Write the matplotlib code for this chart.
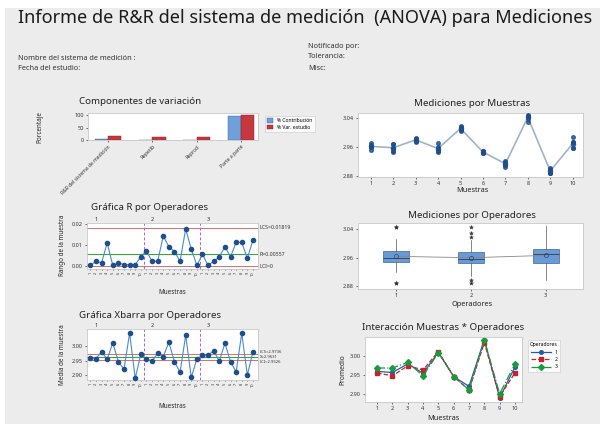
import matplotlib
matplotlib.use("Agg")
import matplotlib.pyplot as plt
import numpy as np
from matplotlib.patches import Rectangle

plt.rcParams['font.family'] = ['Noto Sans', 'DejaVu Sans']

# ---------------- data ----------------
parts = [1, 2, 3, 4, 5, 6, 7, 8, 9, 10]
operators = [1, 2, 3]

op1_t1 = [2.96015, 2.95815, 2.9808, 2.9605, 3.01115, 2.94675, 2.92035, 3.04535, 2.88935, 2.9742]
op1_t2 = [2.95985, 2.95585, 2.9792, 2.9495, 3.01085, 2.94525, 2.91965, 3.04465, 2.88865, 2.9698]
op2_t1 = [2.9596, 2.94915, 2.97615, 2.9711, 3.01765, 2.94945, 2.91115, 3.04585, 2.8960, 2.95615]
op2_t2 = [2.9524, 2.94685, 2.97385, 2.9569, 3.00835, 2.94255, 2.90885, 3.02815, 2.8880, 2.95585]
op3_t1 = [2.9718, 2.96915, 2.98515, 2.9502, 3.0146, 2.9482, 2.91665, 3.04965, 2.9018, 2.98625]
op3_t2 = [2.9662, 2.96885, 2.98285, 2.9458, 3.0054, 2.9438, 2.90535, 3.03835, 2.8982, 2.97375]

comp_labels = ["R&R del sistema de medición", "Repetib", "Reprod", "Parte a parte"]
pct_contrib = [3.0, 1.6, 1.4, 97.0]
pct_studyvar = [17.3, 12.6, 11.8, 98.5]

R_ucl, R_bar, R_lcl = 0.01819, 0.00557, 0.0
X_ucl, X_bar, X_lcl = 2.9736, 2.9631, 2.9526

# ---------------- derived stats ----------------
t1 = [np.array(op1_t1), np.array(op2_t1), np.array(op3_t1)]
t2 = [np.array(op1_t2), np.array(op2_t2), np.array(op3_t2)]
xbar = [(a + b) / 2 for a, b in zip(t1, t2)]
rng = [np.abs(a - b) for a, b in zip(t1, t2)]

W, H = 600, 424
fig = plt.figure(figsize=(6, 4.24), dpi=100, facecolor='white')
fig.patches.append(Rectangle((5 / W, 0), 1, 1 - 8 / H, transform=fig.transFigure,
                             facecolor='#ececec', edgecolor='none', zorder=-10))


def axpx(x0, y0, x1, y1):
    ax = fig.add_axes([x0 / W, 1 - y1 / H, (x1 - x0) / W, (y1 - y0) / H])
    ax.set_facecolor('white')
    for s in ax.spines.values():
        s.set_color('#c8c8c8')
        s.set_linewidth(0.6)
    ax.tick_params(labelsize=4, length=1.5, width=0.5, pad=1.5, colors='#333333')
    return ax


def ftext(x, y, s, **kw):
    kw.setdefault('color', '#222222')
    fig.text(x / W, 1 - y / H, s, **kw)


# ---------------- header ----------------
ftext(18, 18, "Informe de R&R del sistema de medición  (ANOVA) para Mediciones",
      fontsize=13.0, va='center', ha='left', color='#1a1a1a')
ftext(18, 58, "Nombre del sistema de medición :", fontsize=5.3, va='center', color='#333333')
ftext(18, 69, "Fecha del estudio:", fontsize=5.3, va='center', color='#333333')
ftext(308, 46, "Notificado por:", fontsize=5.3, va='center', color='#333333')
ftext(308, 57, "Tolerancia:", fontsize=5.3, va='center', color='#333333')
ftext(308, 68, "Misc:", fontsize=5.3, va='center', color='#333333')

blue_bar = '#6fa0dc'
red_bar = '#c8373e'

# ---------------- Componentes de variación ----------------
ax = axpx(88, 113, 258, 140)
xpos = np.arange(len(comp_labels))
bw = 0.3
ax.bar(xpos - bw / 2, pct_contrib, bw, color=blue_bar, edgecolor='#3d5f8a', linewidth=0.3, label='% Contribución')
ax.bar(xpos + bw / 2, pct_studyvar, bw, color=red_bar, edgecolor='#7a1f24', linewidth=0.3, label='% Var. estudio')
ax.set_xlim(-0.45, 3.38)
ax.set_ylim(0, 108)
ax.set_yticks([0, 50, 100])
ax.set_xticks(xpos)
ax.set_xticklabels(comp_labels, rotation=45, ha='right', rotation_mode='anchor', fontsize=3.6)
ftext(140, 102, "Componentes de variación", fontsize=7, ha='center', va='center')
ftext(40, 127, "Porcentaje", fontsize=4.5, rotation=90, ha='center', va='center')
leg = ax.legend(loc='upper left', bbox_to_anchor=(262 / W, 1 - 113 / H), bbox_transform=fig.transFigure,
                fontsize=3.6, frameon=True, handlelength=1.2, handleheight=1.0, borderpad=0.5,
                labelspacing=0.3, fancybox=False, edgecolor='#c8c8c8')
leg.get_frame().set_linewidth(0.5)

# ---------------- control chart helper ----------------
line_blue = '#4a8ad4'
pt_blue = '#1f4e8c'
xs = np.arange(1, 31)
tick_lbls = [str(p) for p in parts] * 3


def control_chart(ax, vals, ucl, cl, lcl):
    ax.plot(xs, vals, color=line_blue, lw=0.8, marker='o', ms=3,
            mfc=pt_blue, mec=pt_blue, zorder=3)
    ax.axhline(ucl, color='#e06b6b', lw=0.7)
    ax.axhline(cl, color='#3aa63a', lw=0.8)
    ax.axhline(lcl, color='#e06b6b', lw=0.7)
    for xv in (10.5, 20.5):
        ax.axvline(xv, color='#b35fc4', lw=0.7, ls=(0, (3, 2)))
    ax.set_xlim(0.4, 30.9)
    ax.set_xticks(xs)
    ax.set_xticklabels(tick_lbls, rotation=90, fontsize=2.8)
    ax.tick_params(axis='x', length=1, pad=1)
    for k, op in enumerate(operators):
        ax.text(10 * k + 2, 1.02, str(op), transform=ax.get_xaxis_transform(),
                fontsize=4, ha='center', va='bottom', color='#333333')


# ---------------- Gráfica R ----------------
ax = axpx(87, 223, 258, 269)
control_chart(ax, np.concatenate(rng), R_ucl, R_bar, R_lcl)
ax.set_ylim(-0.0014, 0.0205)
ax.set_yticks([0.0, 0.01, 0.02])
ax.set_yticklabels(['0.00', '0.01', '0.02'])
ftext(150, 207, "Gráfica R por Operadores", fontsize=7, ha='center', va='center')
ftext(62, 245, "Rango de la muestra", fontsize=4.5, rotation=90, ha='center', va='center')
ftext(172, 293, "Muestras", fontsize=4.5, ha='center', va='center')
ax.text(1.01, R_ucl, "LCS=0.01819", transform=ax.get_yaxis_transform(), fontsize=3.8, va='center', color='#333333')
ax.text(1.01, R_bar, "R̄=0.00557", transform=ax.get_yaxis_transform(), fontsize=3.8, va='center', color='#333333')
ax.text(1.01, R_lcl, "LCI=0", transform=ax.get_yaxis_transform(), fontsize=3.8, va='center', color='#333333')

# ---------------- Gráfica Xbarra ----------------
ax = axpx(87, 329, 258, 380)
control_chart(ax, np.concatenate(xbar), X_ucl, X_bar, X_lcl)
ax.set_ylim(2.883, 3.059)
ax.set_yticks([2.90, 2.95, 3.00])
ax.set_yticklabels(['2.90', '2.95', '3.00'])
ftext(150, 315, "Gráfica Xbarra por Operadores", fontsize=7, ha='center', va='center')
ftext(62, 355, "Media de la muestra", fontsize=4.5, rotation=90, ha='center', va='center')
ftext(172, 407, "Muestras", fontsize=4.5, ha='center', va='center')
tr = ax.get_yaxis_transform()
ax.text(1.01, X_ucl, "LCS=2.9736", transform=tr, fontsize=3.0, va='bottom', color='#333333')
ax.text(1.01, X_bar, "X̄=2.9631", transform=tr, fontsize=3.0, va='center', color='#333333')
ax.text(1.01, X_lcl, "LCI=2.9526", transform=tr, fontsize=3.0, va='top', color='#333333')

# ---------------- Mediciones por Muestras ----------------
ax = axpx(358, 113, 583, 177)
part_means = np.mean(np.vstack(t1 + t2), axis=0)
for a in t1 + t2:
    ax.plot(parts, a, ls='none', marker='o', ms=2.6, mfc=pt_blue, mec=pt_blue, alpha=0.8, zorder=3)
ax.plot(parts, part_means, color='#9fb3cc', lw=1.2, marker='o', ms=3.5, mfc='#5c7fae', mec='#2f4f7a',
        mew=0.4, zorder=2)
ax.set_xlim(0.43, 10.46)
ax.set_ylim(2.877, 3.054)
ax.set_xticks(parts)
ax.set_yticks([2.88, 2.96, 3.04])
ax.set_yticklabels(['2.88', '2.96', '3.04'])
ftext(472, 103, "Mediciones por Muestras", fontsize=7, ha='center', va='center')
ftext(472, 191, "Muestras", fontsize=5.3, ha='center', va='center')

# ---------------- Mediciones por Operadores ----------------
ax = axpx(358, 223, 583, 289)
op_data = [np.concatenate([a, b]) for a, b in zip(t1, t2)]
box_kw = dict(widths=0.35, patch_artist=True, showfliers=True,
              boxprops=dict(facecolor='#6a9ad6', edgecolor='#3f6592', linewidth=0.5),
              medianprops=dict(color='#2b3f5c', linewidth=0.6),
              whiskerprops=dict(color='#555555', linewidth=0.5),
              capprops=dict(linewidth=0),
              flierprops=dict(marker='*', markersize=3, markerfacecolor='#333333',
                              markeredgecolor='#333333', markeredgewidth=0.3))
ax.boxplot(op_data[:2], positions=operators[:2], whis=1.5, **box_kw)
ax.boxplot(op_data[2:], positions=operators[2:], whis=(0, 100), **box_kw)
op_means = [np.mean(d) for d in op_data]
ax.plot(operators, op_means, color='#888888', lw=0.6, marker='o', ms=3, mfc='none', mec='#333333',
        mew=0.4, zorder=4)
ax.set_xlim(0.49, 3.5)
ax.set_ylim(2.872, 3.057)
ax.set_xticks(operators)
ax.set_xticklabels([str(o) for o in operators])
ax.set_yticks([2.88, 2.96, 3.04])
ax.set_yticklabels(['2.88', '2.96', '3.04'])
ftext(472, 215, "Mediciones por Operadores", fontsize=7, ha='center', va='center')
ftext(472, 305, "Operadores", fontsize=5.3, ha='center', va='center')

# ---------------- Interacción ----------------
ax = axpx(365, 337, 522, 402)
styles = [dict(color='#1f5fa8', marker='o', ms=2.6, ls='-'),
          dict(color='#c0252f', marker='s', ms=3.4, ls='--'),
          dict(color='#1a9a3a', marker='D', ms=3.0, ls='-.')]
for op, xb, st in zip(operators, xbar, styles):
    ax.plot(parts, xb, lw=0.9, label=str(op), mec=st['color'], mfc=st['color'], **st)
ax.set_xlim(0.21, 10.46)
ax.set_ylim(2.878, 3.052)
ax.set_xticks(parts)
ax.set_yticks([2.90, 2.95, 3.00])
ax.set_yticklabels(['2.90', '2.95', '3.00'])
ftext(443, 327, "Interacción Muestras * Operadores", fontsize=7, ha='center', va='center')
ftext(443, 418, "Muestras", fontsize=5.3, ha='center', va='center')
ftext(343, 370, "Promedio", fontsize=4.8, rotation=90, ha='center', va='center')
leg = ax.legend(title='Operadores', loc='upper left', bbox_to_anchor=(525 / W, 1 - 337 / H),
                bbox_transform=fig.transFigure, fontsize=3.6, title_fontsize=3.6,
                handlelength=4, labelspacing=0.5, borderpad=0.5, fancybox=False,
                edgecolor='#c8c8c8', markerfirst=True, alignment='right')
leg.get_frame().set_linewidth(0.5)

fig.savefig('out.png', dpi=100, facecolor=fig.get_facecolor())
